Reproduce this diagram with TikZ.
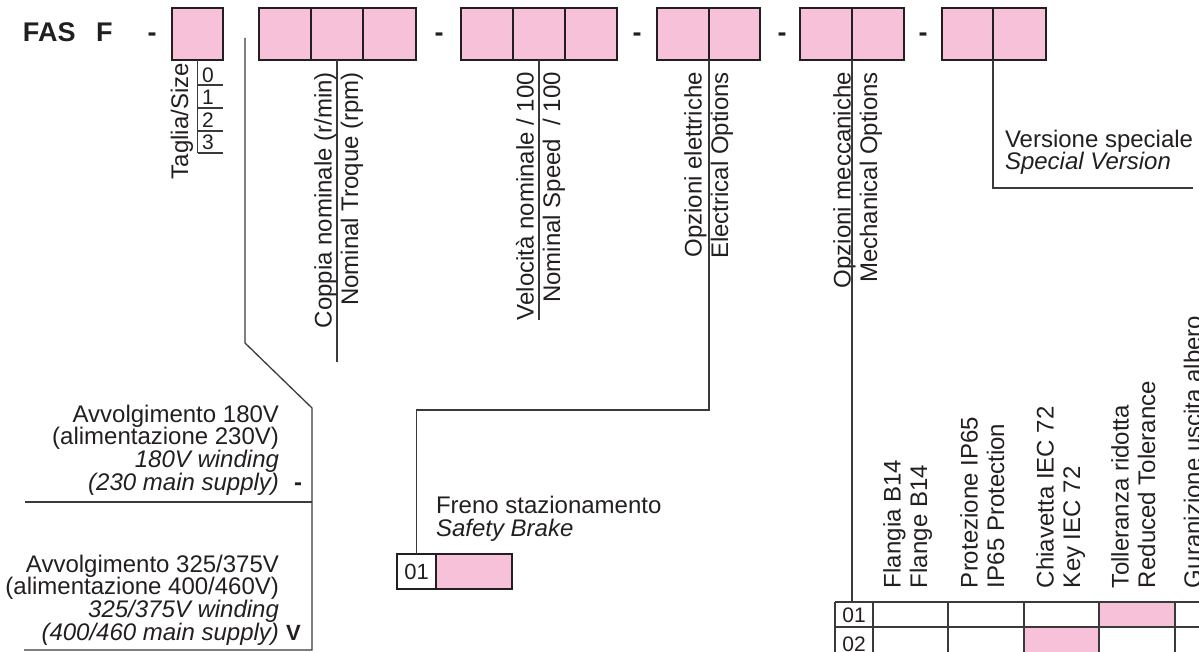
\documentclass[tikz,border=0pt]{standalone}
\usepackage{fontspec}
\setmainfont{Liberation Sans}
\definecolor{pinkc}{HTML}{F6C1D9}
\definecolor{ink}{HTML}{231F20}
\definecolor{rulec}{HTML}{3A3A3A}
\begin{document}
\begin{tikzpicture}[x=1pt,y=-1pt,
  cell/.style={draw=ink, line width=1.3pt, fill=pinkc, minimum width=52pt, minimum height=52pt, inner sep=0pt, outer sep=0pt, anchor=north west},
  conn/.style={draw=rulec, line width=1.3pt},
  grid/.style={draw=rulec, line width=1.2pt},
  lab/.style={font=\fontsize{24}{22.6}\selectfont, text=ink, inner sep=0pt, outer sep=0pt},
  vlab/.style={font=\fontsize{24}{26.5}\selectfont, text=ink, inner sep=0pt, outer sep=0pt, rotate=90},
  big/.style={font=\fontsize{27}{27}\selectfont\bfseries, text=ink, inner sep=0pt, outer sep=0pt},
  dig/.style={font=\fontsize{21}{21}\selectfont, text=ink, inner sep=0pt, outer sep=0pt}]
\useasboundingbox (0,0) rectangle (1199,652);

% header code
\node[big, anchor=base west] (fas) at (23,42) {FAS};
\node[big, anchor=base west] (ff) at (96,42) {F};
\node[big, anchor=base] (dA) at (152,42) {-};
\node[big, anchor=base] (dB) at (439,42) {-};
\node[big, anchor=base] (dC) at (637,42) {-};
\node[big, anchor=base] (dD) at (782,42) {-};
\node[big, anchor=base] (dE) at (923,42) {-};

\node[cell, minimum width=51pt] (a1) at (172,8) {};
\node[cell] (b1) at (259,8) {};
\node[cell] (b2) at (311,8) {};
\node[cell, minimum width=53pt] (b3) at (363,8) {};
\node[cell] (c1) at (461,8) {};
\node[cell] (c2) at (513,8) {};
\node[cell] (c3) at (565,8) {};
\node[cell] (d1) at (657,8) {};
\node[cell, minimum width=51pt] (d2) at (709,8) {};
\node[cell] (e1) at (800,8) {};
\node[cell] (e2) at (852,8) {};
\node[cell, minimum width=51pt] (f1) at (942,8) {};
\node[cell, minimum width=53pt] (f2) at (993,8) {};

% size
\node[vlab, anchor=base east] (taglia) at (188,63) {Taglia/Size};
\coordinate (s0) at (197.5,85);
\coordinate (s1) at (197.5,108);
\coordinate (s2) at (197.5,131);
\coordinate (s3) at (197.5,153);
\draw[conn] (a1.south) -- (s3);
\foreach \c in {s0,s1,s2,s3} \draw[conn] (\c) -- ++(25,0);
\node[dig, anchor=base west] (n0) at (202,83) {0};
\node[dig, anchor=base west] (n1) at (202,105) {1};
\node[dig, anchor=base west] (n2) at (202,128) {2};
\node[dig, anchor=base west] (n3) at (202,150) {3};

% voltage
\coordinate (v0) at (245,38);
\coordinate (v1) at (245,343);
\coordinate (v2) at (312,408);
\coordinate (v3) at (312,650);
\coordinate (vm) at (312,502);
\coordinate (h1) at (25,502);
\coordinate (h2) at (24,650);
\draw[conn] (v0) -- (v1) -- (v2) -- (v3) -- (h2);
\draw[conn] (vm) -- (h1);
\node[lab, align=right, anchor=base east] (avv1) at (279,490)
  {Avvolgimento 180V\\(alimentazione 230V)\\\textit{180V winding}\\\textit{(230 main supply)}};
\node[lab, align=right, anchor=base east] (avv2) at (279,640)
  {Avvolgimento 325/375V\\(alimentazione 400/460V)\\\textit{325/375V winding}\\\textit{(400/460 main supply)}};
\node[big, font=\fontsize{24}{24}\selectfont\bfseries, anchor=base] (m1) at (298,490) {-};
\node[big, font=\fontsize{22}{22}\selectfont\bfseries, anchor=base west] (m2) at (286,640) {V};

% torque
\coordinate (tq) at (337,362);
\draw[conn] (b2.south) -- (tq);
\node[vlab, align=right, anchor=base east] (coppia) at (358,72)
  {Coppia nominale (r/min)\\Nominal Troque (rpm)};

% speed
\coordinate (sp) at (539,320);
\draw[conn] (c2.south) -- (sp);
\node[vlab, align=right, anchor=base east] (vel) at (560,72)
  {Velocità nominale / 100\\Nominal Speed~ / 100};

% electrical options
\node[vlab, align=right, anchor=base east] (ele) at (728,72)
  {Opzioni elettriche\\Electrical Options};
\node[dig, font=\fontsize{22}{22}\selectfont, draw=ink, line width=1.2pt, fill=white, minimum width=39pt, minimum height=35pt, anchor=north west] (f01) at (397,554) {01};
\node[cell, line width=1.2pt, minimum width=76pt, minimum height=35pt] (fpk) at (436,554) {};
\coordinate (el) at (709,410);
\draw[conn] (d1.south east) -- (el) -| (f01.north);
\node[lab, align=left, anchor=base west] (freno) at (436,536)
  {Freno stazionamento\\\textit{Safety Brake}};

% mechanical options
\node[vlab, align=right, anchor=base east] (mec) at (877,72)
  {Opzioni meccaniche\\Mechanical Options};
\coordinate (tt) at (852,602);
\draw[conn] (e1.south east) -- (tt);

% table
\fill[pinkc] (1099,602) rectangle (1175,627);
\fill[pinkc] (1024,627) rectangle (1099,660);
\draw[grid] (835,602) -- (1210,602);
\draw[grid] (835,627) -- (1210,627);
\foreach \x in {835,873,948,1024,1099,1175} \draw[grid] (\x,602) -- (\x,660);
\node[dig, anchor=base] (t01) at (854,622) {01};
\node[dig, anchor=base] (t02) at (854,651) {02};
\node[vlab, align=left, anchor=base west] (h1c) at (927,588) {Flangia B14\\Flange B14};
\node[vlab, align=left, anchor=base west] (h2c) at (1004,588) {Protezione IP65\\IP65 Protection};
\node[vlab, align=left, anchor=base west] (h3c) at (1080,588) {Chiavetta IEC 72\\Key IEC 72};
\node[vlab, align=left, anchor=base west] (h4c) at (1155,588) {Tolleranza ridotta\\Reduced Tolerance};
\node[vlab, align=left, anchor=base west] (h5c) at (1201,588) {Guranizione uscita albero};

% special version
\coordinate (sv1) at (1193,188);
\draw[conn] (f1.south east) |- (sv1);
\node[lab, align=left, anchor=base west] (sv) at (1005,170)
  {Versione speciale\\\textit{Special Version}};
\end{tikzpicture}
\end{document}
